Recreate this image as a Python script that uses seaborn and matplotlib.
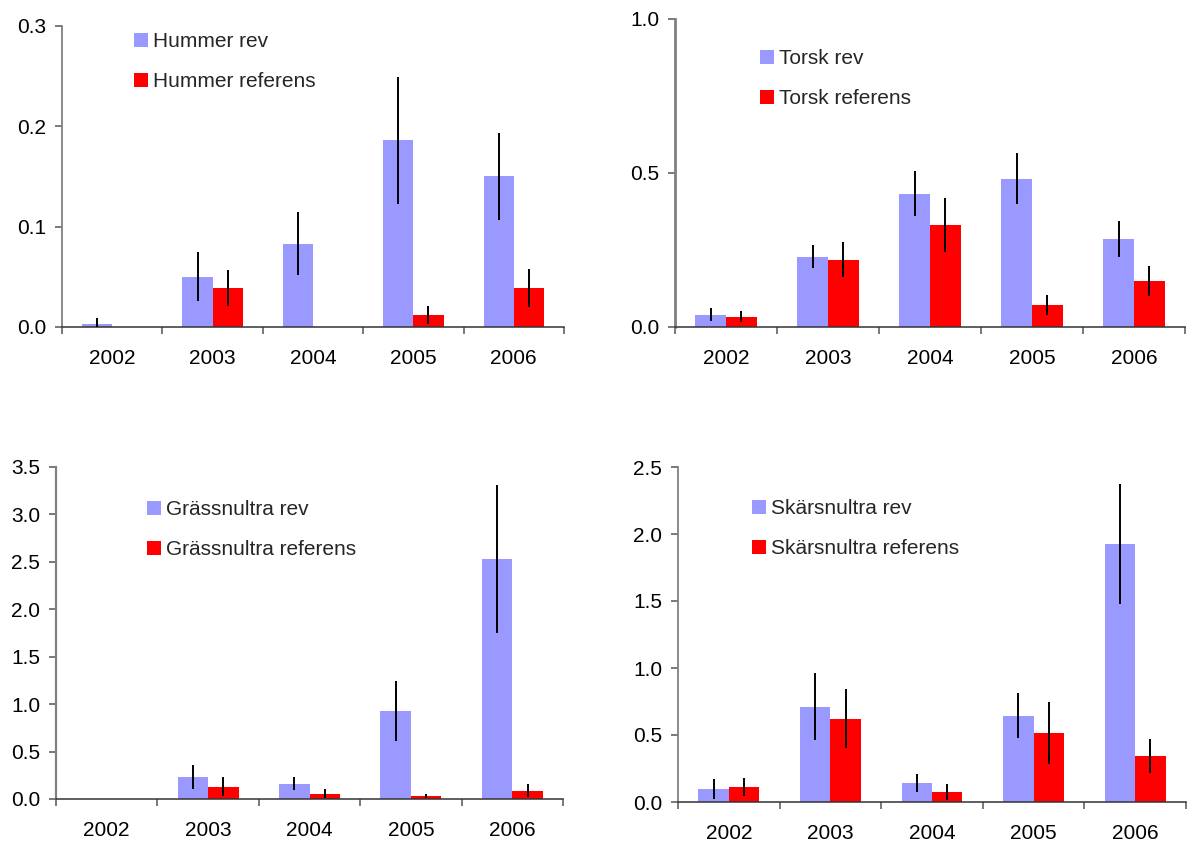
import numpy as np
import pandas as pd
import matplotlib
matplotlib.use("Agg")
import matplotlib.pyplot as plt
import seaborn as sns
from matplotlib.ticker import FixedLocator, FormatStrFormatter

years = ["2002", "2003", "2004", "2005", "2006"]

hummer_rev = [0.003, 0.050, 0.083, 0.186, 0.150]
hummer_rev_err = [0.006, 0.0245, 0.0315, 0.063, 0.0437]
hummer_ref = [0.0, 0.039, 0.0, 0.012, 0.039]
hummer_ref_err = [0.0, 0.0176, 0.0, 0.009, 0.019]

torsk_rev = [0.040, 0.228, 0.433, 0.482, 0.287]
torsk_rev_err = [0.021, 0.038, 0.0725, 0.083, 0.0585]
torsk_ref = [0.0335, 0.219, 0.332, 0.0725, 0.150]
torsk_ref_err = [0.018, 0.057, 0.088, 0.032, 0.049]

grass_rev = [0.0, 0.235, 0.162, 0.931, 2.533]
grass_rev_err = [0.0, 0.125, 0.070, 0.318, 0.782]
grass_ref = [0.0, 0.130, 0.056, 0.035, 0.088]
grass_ref_err = [0.0, 0.097, 0.045, 0.020, 0.070]

skar_rev = [0.097, 0.712, 0.142, 0.644, 1.926]
skar_rev_err = [0.074, 0.250, 0.070, 0.166, 0.447]
skar_ref = [0.112, 0.622, 0.075, 0.517, 0.345]
skar_ref_err = [0.067, 0.220, 0.061, 0.230, 0.127]

panels = [
    ("Hummer", hummer_rev, hummer_rev_err, hummer_ref, hummer_ref_err, [0.0, 0.1, 0.2, 0.3]),
    ("Torsk", torsk_rev, torsk_rev_err, torsk_ref, torsk_ref_err, [0.0, 0.5, 1.0]),
    ("Grässnultra", grass_rev, grass_rev_err, grass_ref, grass_ref_err, [0.0, 0.5, 1.0, 1.5, 2.0, 2.5, 3.0, 3.5]),
    ("Skärsnultra", skar_rev, skar_rev_err, skar_ref, skar_ref_err, [0.0, 0.5, 1.0, 1.5, 2.0, 2.5]),
]

REV_COLOR = "#9999FF"
REF_COLOR = "#FF0000"

sns.set_theme(style="white")
plt.rcParams["font.family"] = ["Liberation Sans", "DejaVu Sans"]

W, H = 1188, 843
fig = plt.figure(figsize=(W / 100, H / 100), dpi=100)

# axes boxes in pixels: left, right, top, bottom
boxes = [
    (62, 564, 26, 327),
    (675, 1185, 19, 327),
    (56, 563, 467, 799),
    (678, 1186, 467, 802),
]
left_spine_lw = [1.3, 2.0, 1.6, 1.3]
# legend anchor (marker left x, top y) in pixels
leg_anchor = [
    (134, 32),
    (760, 49),
    (147, 500),
    (752, 499),
]
FS = 15

for (name, rev, rev_err, ref, ref_err, yticks), (l, r, t, b), (lx, ly), slw in zip(
        panels, boxes, leg_anchor, left_spine_lw):
    ax = fig.add_axes([l / W, 1 - b / H, (r - l) / W, (b - t) / H])
    rev_label = f"{name} rev"
    ref_label = f"{name} referens"
    df = pd.DataFrame({
        "year": years * 2,
        "value": list(rev) + list(ref),
        "series": [rev_label] * len(years) + [ref_label] * len(years),
    })
    errs = {rev_label: rev_err, ref_label: ref_err}
    sns.barplot(data=df, x="year", y="value", hue="series",
                hue_order=[rev_label, ref_label],
                palette=[REV_COLOR, REF_COLOR], width=0.6, saturation=1,
                errorbar=None, ax=ax, linewidth=0)
    for cont, lab in zip(ax.containers, [rev_label, ref_label]):
        xs = [p.get_x() + p.get_width() / 2 for p in cont.patches]
        hs = [p.get_height() for p in cont.patches]
        ax.errorbar(xs, hs, yerr=errs[lab], fmt="none", ecolor="black",
                    elinewidth=1.4, capsize=0, zorder=5)

    ax.set_xlim(-0.5, len(years) - 0.5)
    ax.set_ylim(yticks[0], yticks[-1])
    ax.yaxis.set_major_locator(FixedLocator(yticks))
    ax.yaxis.set_major_formatter(FormatStrFormatter("%.1f"))
    ax.xaxis.set_minor_locator(FixedLocator(np.arange(-0.5, len(years), 1.0)))
    ax.tick_params(axis="x", which="major", length=0, pad=16, labelsize=FS, colors="black")
    ax.tick_params(axis="x", which="minor", bottom=True, length=5, width=1.1, color="#555555")
    ax.tick_params(axis="y", left=True, length=5, width=1.1, pad=6.5, labelsize=FS,
                   color="#555555", labelcolor="black")
    ax.set_xlabel("")
    ax.set_ylabel("")
    for s in ["top", "right"]:
        ax.spines[s].set_visible(False)
    ax.spines["left"].set_color("#808080")
    ax.spines["left"].set_linewidth(slw)
    ax.spines["bottom"].set_color("#333333")
    ax.spines["bottom"].set_linewidth(1.1)

    handles, labels = ax.get_legend_handles_labels()
    ax.legend(handles, labels, loc="upper left",
              bbox_to_anchor=(lx / W, 1 - ly / H), bbox_transform=fig.transFigure,
              frameon=False, fontsize=FS, handlelength=0.67, handleheight=0.65,
              handletextpad=0.22, labelspacing=1.02, borderpad=0, borderaxespad=0)

fig.savefig("out.png", dpi=100)
